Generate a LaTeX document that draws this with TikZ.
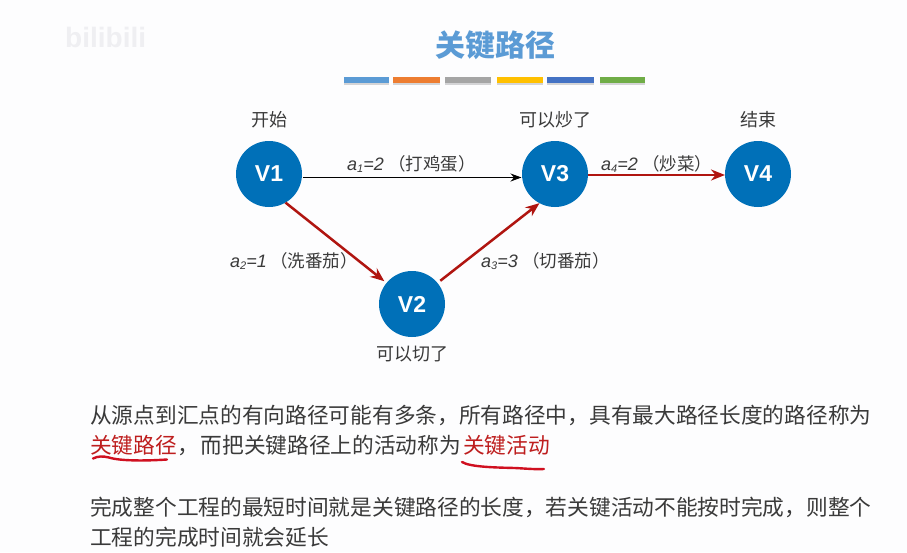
\documentclass[tikz,border=0pt]{standalone}
\usepackage{fontspec}
\usetikzlibrary{arrows.meta}
\setmainfont{Liberation Sans}
\newfontfamily\cjk{Noto Sans CJK SC}
\newfontfamily\latf{Liberation Sans}
\definecolor{bgc}{HTML}{FDFDFE}
\definecolor{blue1}{HTML}{0070B8}
\definecolor{titlec}{HTML}{5B9BD5}
\definecolor{redc}{HTML}{B01510}
\definecolor{textc}{HTML}{3A3A3A}
\definecolor{hlc}{HTML}{BE1E1E}
\definecolor{inkc}{HTML}{D01020}
\definecolor{wm}{HTML}{EFEFF2}
\definecolor{shadowc}{HTML}{D4D4D6}
\tikzset{
  vert/.style={circle,fill=blue1,text=white,minimum size=66pt,inner sep=0pt,outer sep=0pt,font=\fontsize{23}{26}\selectfont\bfseries},
  caption/.style={text=textc,inner sep=0pt,font=\cjk\fontsize{18}{20}\selectfont},
  edgelabel/.style={text=textc,inner sep=0pt,anchor=base west,font=\cjk\fontsize{17.5}{20}\selectfont},
  para/.style={text=textc,inner sep=0pt,anchor=base west,font=\cjk\fontsize{21.7}{26}\selectfont},
  plainedge/.style={draw=black,line width=1.1pt,-{Stealth[length=11pt,width=8pt]}},
  critedge/.style={draw=redc,line width=2.5pt,-{Stealth[length=14pt,width=11pt]}},
  ink/.style={draw=inkc,line width=2.4pt,line cap=round},
  colorbar/.style={inner sep=0pt,minimum height=6pt,anchor=north west},
}
\newcommand{\lat}[2]{{\latf\itshape\fontsize{18}{20}\selectfont a\raisebox{-2pt}{\fontsize{11}{12}\selectfont #1}=#2}}
\begin{document}
\begin{tikzpicture}[x=1pt,y=-1pt]
\useasboundingbox (0,0) rectangle (907,552);
\fill[bgc] (0,0) rectangle (907,552);
\node[text=wm,inner sep=0pt,anchor=base west,font=\fontsize{28}{32}\selectfont\bfseries] (wmark) at (65,47) {bilibili};
\node[text=titlec,inner sep=0pt,font=\cjk\fontsize{30}{34}\selectfont\bfseries] (title) at (495,45) {关键路径};
% colour bars
\foreach \xa/\w/\c in {344/45/5B9BD5,393/47/ED7D31,445/46/A5A5A5,497/46/FFC000,547/47/4472C4,600/45/70AD47}{
  \definecolor{barc}{HTML}{\c}
  \fill[shadowc] (\xa,78.5) rectangle +(\w,6);
  \node[colorbar,fill=barc,minimum width=\w pt] (bar\xa) at (\xa,77) {};
}
% vertices
\node[vert] (v1) at (269,174) {V1};
\node[vert] (v2) at (412,304) {V2};
\node[vert] (v3) at (555,174) {V3};
\node[vert] (v4) at (758,174) {V4};
% captions
\node[caption] (c1) at (269,120) {开始};
\node[caption] (c3) at (555,120) {可以炒了};
\node[caption] (c4) at (758,120) {结束};
\node[caption] (c2) at (412,354) {可以切了};
% edges
\draw[plainedge] ([yshift=-3.5pt,xshift=1pt]v1.east) -- ([yshift=-3.5pt,xshift=-0.5pt]v3.west);
\draw[critedge] (v1.-60) -- ([shift={(-2pt,2pt)}]v2.141);
\draw[critedge] ([shift={(3pt,2pt)}]v2.40) -- (v3.-118);
\draw[critedge] ([yshift=-1pt]v3.east) -- ([yshift=-1pt]v4.west);
% edge labels
\node[edgelabel] (l1) at (347,170) {\lat{1}{2}};
\node[edgelabel] (l1b) at (388,170) {（打鸡蛋）};
\node[edgelabel] (l4) at (601,170) {\lat{4}{2}};
\node[edgelabel] (l4b) at (642,170) {（炒菜）};
\node[edgelabel] (l2) at (230,267) {\lat{2}{1}};
\node[edgelabel] (l2b) at (270,267) {（洗番茄）};
\node[edgelabel] (l3) at (481,267) {\lat{3}{3}};
\node[edgelabel] (l3b) at (522,267) {（切番茄）};
% paragraphs
\node[para] (p1) at (90,423) {从源点到汇点的有向路径可能有多条，所有路径中，具有最大路径长度的路径称为};
\node[para] (p2) at (90,453) {\textcolor{hlc}{关键路径}，\kern2pt 而把关键路径上的活动称为\kern2pt \textcolor{hlc}{关键活动}};
\node[para] (p3) at (90,515) {完成整个工程的最短时间就是关键路径的长度，若关键活动不能按时完成，则整个};
\node[para] (p4) at (90,545) {工程的完成时间就会延长};
% hand-drawn underlines
\draw[ink] (93,458.5) .. controls (98,456) and (103,456) .. (109,457.5) .. controls (120,461) and (145,461) .. (167,459.5);
\draw[ink] (462,462) .. controls (470,467) and (495,467.5) .. (515,468) .. controls (525,468.5) and (535,469.5) .. (544,469);
\end{tikzpicture}
\end{document}
